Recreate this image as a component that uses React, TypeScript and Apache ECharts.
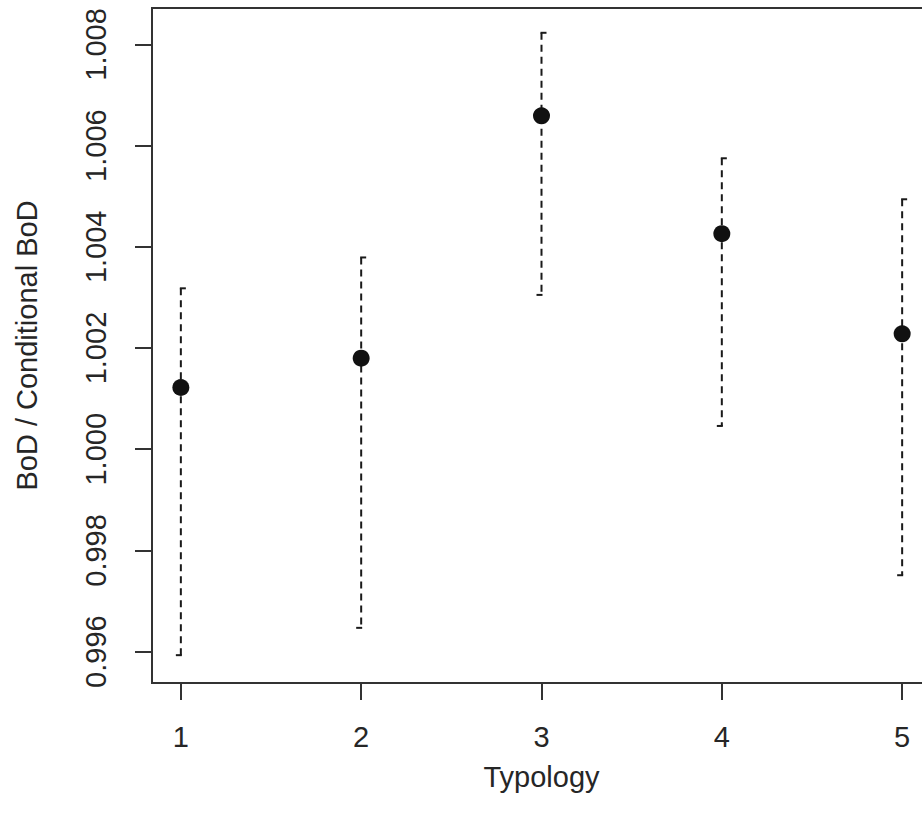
import React, { useEffect, useRef } from "react";
import * as echarts from "echarts";

const typology = [1, 2, 3, 4, 5];
const ratio = [1.00122, 1.0018, 1.00659, 1.00426, 1.00228];
const upper = [1.00318, 1.00379, 1.00823, 1.00575, 1.00494];
const lower = [0.99593, 0.99647, 1.00305, 1.00046, 0.99751];
const yTicks = [0.996, 0.998, 1.0, 1.002, 1.004, 1.006, 1.008];
const xTicks = [1, 2, 3, 4, 5];

const FONT = "'Liberation Sans', Arial, Helvetica, sans-serif";
const TEXT = "#262626";
const INK = "#1a1a1a";

export default function App() {
  const ref = useRef<HTMLDivElement>(null);
  useEffect(() => {
    if (!ref.current) return;
    const chart = echarts.init(ref.current, null, { renderer: "svg" });
    const errData = typology.map((t, i) => [t, lower[i], upper[i]]);
    const ptData = typology.map((t, i) => [t, ratio[i]]);
    chart.setOption({
      animation: false,
      backgroundColor: "#ffffff",
      grid: {
        left: 152,
        right: 9,
        top: 8,
        bottom: 144,
        show: true,
        borderColor: "#333333",
        borderWidth: 2,
        backgroundColor: "transparent",
      },
      xAxis: {
        type: "value",
        min: 0.84,
        max: 5.16,
        name: "Typology",
        nameLocation: "middle",
        nameGap: 79,
        nameTextStyle: { fontFamily: FONT, fontSize: 29, color: TEXT },
        axisLine: { show: false },
        splitLine: { show: false },
        axisTick: {
          show: true,
          customValues: xTicks,
          length: 17,
          lineStyle: { color: "#333333", width: 2 },
        },
        axisLabel: {
          customValues: xTicks,
          margin: 39,
          fontFamily: FONT,
          fontSize: 29,
          color: TEXT,
          formatter: (v: number) => String(v),
        },
      },
      yAxis: {
        type: "value",
        min: 0.99538,
        max: 1.00872,
        name: "BoD / Conditional BoD",
        nameLocation: "middle",
        nameGap: 111,
        nameRotate: 90,
        nameTextStyle: { fontFamily: FONT, fontSize: 29, color: TEXT },
        axisLine: { show: false },
        splitLine: { show: false },
        axisTick: {
          show: true,
          customValues: yTicks,
          length: 17,
          lineStyle: { color: "#333333", width: 2 },
        },
        axisLabel: {
          customValues: yTicks,
          rotate: 90,
          margin: 42,
          fontFamily: FONT,
          fontSize: 29,
          color: TEXT,
          formatter: (v: number) => v.toFixed(3),
        },
      },
      series: [
        {
          type: "custom",
          data: errData,
          z: 2,
          renderItem: (params: any, api: any) => {
            const x = api.value(0);
            const lo = api.coord([x, api.value(1)]);
            const hi = api.coord([x, api.value(2)]);
            const style = { stroke: INK, lineWidth: 2, lineDash: [7, 5] };
            const cap = { stroke: INK, lineWidth: 2 };
            return {
              type: "group",
              children: [
                { type: "line", shape: { x1: hi[0], y1: hi[1], x2: lo[0], y2: lo[1] }, style },
                { type: "line", shape: { x1: hi[0] - 1, y1: hi[1], x2: hi[0] + 5, y2: hi[1] }, style: cap },
                { type: "line", shape: { x1: lo[0] - 5, y1: lo[1], x2: lo[0] + 1, y2: lo[1] }, style: cap },
              ],
            };
          },
        },
        {
          type: "scatter",
          data: ptData,
          z: 3,
          symbol: "circle",
          symbolSize: 17,
          itemStyle: { color: "#111111", opacity: 1 },
        },
      ],
    });
    return () => chart.dispose();
  }, []);
  return (
    <div
      ref={ref}
      style={{ position: "fixed", left: 0, top: 0, width: 940, height: 827, background: "#fff" }}
    />
  );
}
